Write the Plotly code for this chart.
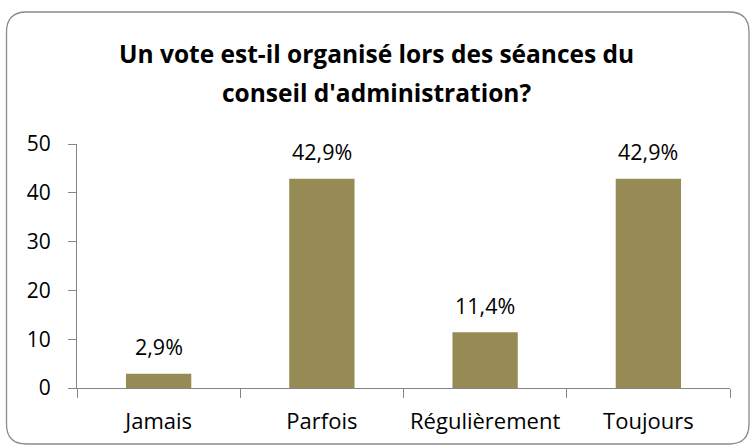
import plotly.graph_objects as go

categories = ["Jamais", "Parfois", "Régulièrement", "Toujours"]
values = [2.9, 42.9, 11.4, 42.9]
labels = ["2,9%", "42,9%", "11,4%", "42,9%"]
y_ticks = [0, 10, 20, 30, 40, 50]
title_lines = ["Un vote est-il organisé lors des séances du",
               "conseil d'administration?"]

W, H = 753, 448
ML, MR, MT, MB = 77, 23, 144, 60
PW, PH = W - ML - MR, H - MT - MB

def px(x):
    return (x - ML) / PW

def py(y):
    return (H - MB - y) / PH

FONT = "Open Sans"
BAR = "#968A55"
AXIS = "#868686"

fig = go.Figure(go.Bar(
    x=categories, y=values, width=0.4,
    marker=dict(color=BAR, line=dict(width=0)),
    hoverinfo="skip",
))

for c, v, t in zip(categories, values, labels):
    fig.add_annotation(x=c, y=v, text=t, showarrow=False, yanchor="middle",
                       yshift=27, font=dict(family=FONT, size=21.5, color="#000"))

# two-line bold heading, centred over the chart
for line, ypix in zip(title_lines, [54, 93]):
    fig.add_annotation(x=px(W / 2), y=py(ypix), xref="paper", yref="paper",
                       text=f"<b>{line}</b>", showarrow=False,
                       xanchor="center", yanchor="middle",
                       font=dict(family=FONT, size=24.5, color="#000"))

# rounded frame around the whole chart
x0, x1, y0, y1, r = 6.5, 749, 12, 444, 20
path = (f"M {px(x0+r)},{py(y0)} L {px(x1-r)},{py(y0)} "
        f"Q {px(x1)},{py(y0)} {px(x1)},{py(y0+r)} L {px(x1)},{py(y1-r)} "
        f"Q {px(x1)},{py(y1)} {px(x1-r)},{py(y1)} L {px(x0+r)},{py(y1)} "
        f"Q {px(x0)},{py(y1)} {px(x0)},{py(y1-r)} L {px(x0)},{py(y0+r)} "
        f"Q {px(x0)},{py(y0)} {px(x0+r)},{py(y0)} Z")
fig.add_shape(type="path", path=path, xref="paper", yref="paper",
              line=dict(color="#8a8a8a", width=1.3), layer="below")

fig.update_layout(
    width=W, height=H,
    margin=dict(l=ML, r=MR, t=MT, b=MB),
    paper_bgcolor="white", plot_bgcolor="white",
    showlegend=False, bargap=0.6,
    xaxis=dict(
        showline=True, linecolor=AXIS, linewidth=1.3,
        ticks="outside", ticklen=9, tickcolor=AXIS, tickwidth=1.3,
        tickson="boundaries", showgrid=False, ticklabelstandoff=13,
        tickfont=dict(family=FONT, size=22, color="#000"),
    ),
    yaxis=dict(
        range=[0, 50], tickvals=y_ticks, showline=True, linecolor=AXIS,
        linewidth=1.3, ticks="outside", ticklen=8, tickcolor=AXIS,
        tickwidth=1.3, showgrid=False, zeroline=False, ticklabelstandoff=13,
        tickfont=dict(family=FONT, size=21, color="#000"),
    ),
)

fig.write_html("out.html")
